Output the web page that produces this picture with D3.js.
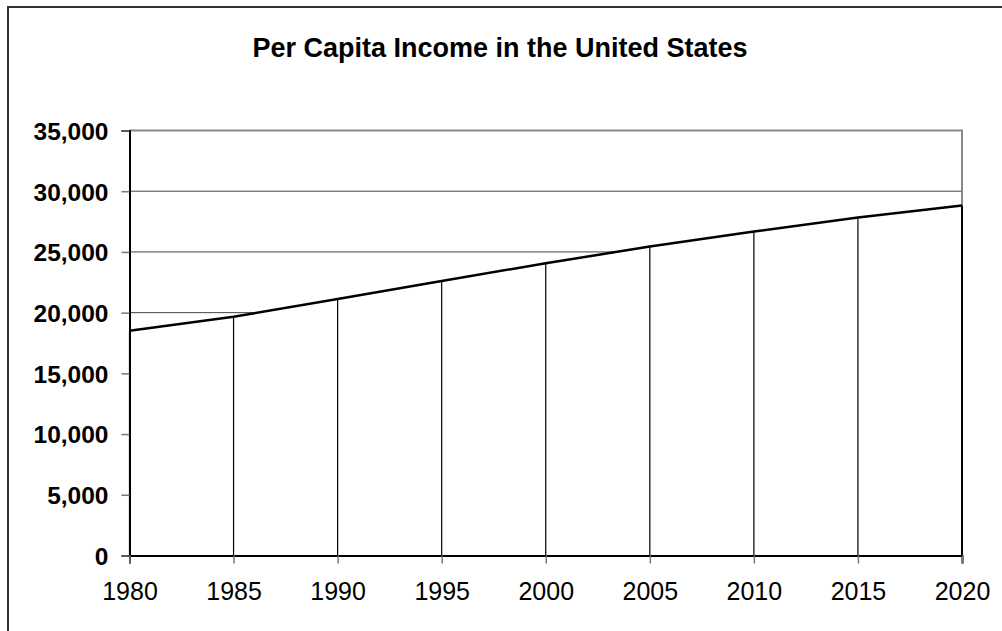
<!DOCTYPE html>
<html>
<head>
<meta charset="utf-8">
<script src="https://cdn.jsdelivr.net/npm/d3@7"></script>
<style>
  body { margin: 0; background: #fff; }
  text { font-family: "Liberation Sans", Arial, sans-serif; }
</style>
</head>
<body>
<div id="chart_container"></div>
<script>
// Data
const years = [1980, 1985, 1990, 1995, 2000, 2005, 2010, 2015, 2020];
const income = [18500, 19660, 21120, 22600, 24070, 25440, 26680, 27830, 28820];
const yTicks = [0, 5000, 10000, 15000, 20000, 25000, 30000, 35000];

// Layout
const W = 1002, H = 631;
const marginLeft = 129.5, marginTop = 130.5;
const width = 962 - marginLeft;
const height = 555.5 - marginTop;

const svg = d3.select("#chart_container").append("svg")
  .attr("width", W).attr("height", H);

// outer frame
svg.append("rect")
  .attr("x", 8).attr("y", 7)
  .attr("width", W + 20).attr("height", H + 20)
  .attr("fill", "none").attr("stroke", "#333").attr("stroke-width", 2);

svg.append("text")
  .attr("x", 500).attr("y", 57)
  .attr("text-anchor", "middle")
  .style("font-size", "27px").style("font-weight", "bold")
  .text("Per Capita Income in the United States");

const g = svg.append("g").attr("transform", `translate(${marginLeft},${marginTop})`);

const x = d3.scaleLinear().domain([1980, 2020]).range([0, width]);
const y = d3.scaleLinear().domain([0, 35000]).range([height, 0]);

// horizontal gridlines
g.selectAll(".ygrid")
  .data(yTicks.slice(1, -1))
  .join("line")
  .attr("x1", 0).attr("x2", width)
  .attr("y1", d => y(d)).attr("y2", d => y(d))
  .attr("stroke", "#444").attr("stroke-width", 1);

// plot border top/right
g.append("path")
  .attr("d", `M0,0H${width}V${height}`)
  .attr("fill", "none").attr("stroke", "#888").attr("stroke-width", 2);

// white area covering gridlines
g.append("path")
  .datum(years.map((yr, i) => [yr, income[i]]))
  .attr("fill", "#fff")
  .attr("d", d3.area().x(d => x(d[0])).y0(height).y1(d => y(d[1])));

// drop lines
g.selectAll(".drop")
  .data(years.map((yr, i) => [yr, income[i]]))
  .join("line")
  .attr("x1", d => x(d[0])).attr("x2", d => x(d[0]))
  .attr("y1", d => y(d[1])).attr("y2", height)
  .attr("stroke", "#000").attr("stroke-width", d => d[0] === 2020 ? 2 : 1.2);

// line
g.append("path")
  .datum(years.map((yr, i) => [yr, income[i]]))
  .attr("fill", "none").attr("stroke", "#000").attr("stroke-width", 2.5)
  .attr("d", d3.line().x(d => x(d[0])).y(d => y(d[1])));

// y axis
const yAxis = g.append("g")
  .call(d3.axisLeft(y).tickValues(yTicks).tickSize(8).tickPadding(13)
    .tickFormat(d3.format(",")));
yAxis.select(".domain").attr("stroke", "#000").attr("stroke-width", 2);
yAxis.selectAll(".tick line").attr("stroke", "#777").attr("stroke-width", 1.5);
yAxis.selectAll(".tick text")
  .style("font-size", "24.5px").style("font-weight", "bold")
  .attr("fill", "#000").attr("dy", "0.36em");

// x axis
const xAxis = g.append("g")
  .attr("transform", `translate(0,${height})`)
  .call(d3.axisBottom(x).tickValues(years).tickSize(8).tickPadding(19)
    .tickFormat(d3.format("d")));
xAxis.select(".domain").attr("stroke", "#000").attr("stroke-width", 2);
xAxis.selectAll(".tick line").attr("stroke", "#777").attr("stroke-width", 1.5);
xAxis.selectAll(".tick text")
  .style("font-size", "25px").attr("fill", "#000");
</script>
</body>
</html>
